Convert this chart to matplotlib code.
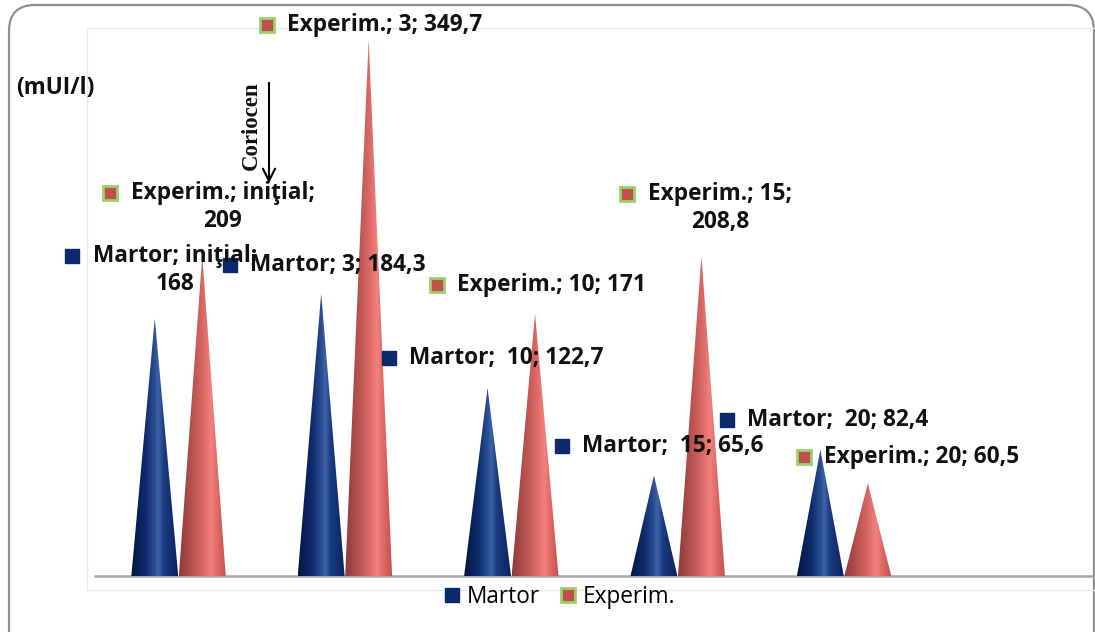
import numpy as np
import matplotlib
matplotlib.use('Agg')
import matplotlib.pyplot as plt
from matplotlib.patches import Polygon, Rectangle, FancyBboxPatch
from matplotlib.colors import LinearSegmentedColormap
from matplotlib.lines import Line2D

# date
categories = ['iniţial', '3', '10', '15', '20']
martor = [168, 184.3, 122.7, 65.6, 82.4]
experim = [209, 349.7, 171, 208.8, 60.5]
series_names = ['Martor', 'Experim.']

W, H = 1095, 632
fig = plt.figure(figsize=(W / 100, H / 100), dpi=100)
fig.patch.set_facecolor('white')

FONT = 'Open Sans'
FS = 16.3

# fundal / chenare (coordonate in pixeli)
bg = fig.add_axes([0, 0, 1, 1], zorder=0)
bg.set_xlim(0, W)
bg.set_ylim(H, 0)
bg.axis('off')
bg.add_patch(FancyBboxPatch((9, 5), 1085, 660, boxstyle='round,pad=0,rounding_size=26',
                            fc='white', ec='#8f8f8f', lw=1.6))
bg.add_patch(Rectangle((87, 28), 1040, 562, fc='none', ec='#ebebe4', lw=1.0))
bg.plot([94, 1095], [576, 576], color='#a6a6a6', lw=1.8, solid_capstyle='butt')

# axa cu conurile
ax = fig.add_axes([94 / W, 1 - 576 / H, 1001 / W, (576 - 28) / H], zorder=1)
ax.patch.set_alpha(0)
ax.axis('off')

blue_cmap = LinearSegmentedColormap.from_list('b', [
    (0.0, '#051640'), (0.3, '#0d2a6a'), (0.5, '#2a4d92'), (0.58, '#3f63a8'),
    (0.7, '#1a3b80'), (1.0, '#0a235e')])
red_cmap = LinearSegmentedColormap.from_list('r', [
    (0.0, '#8e3a3a'), (0.3, '#b85450'), (0.55, '#e06c68'), (0.68, '#f2827e'),
    (0.85, '#da6460'), (1.0, '#c4524e')])

hw = 0.141
off = 0.1427
grad = np.linspace(0, 1, 256).reshape(1, -1)


def cone(xc, h, cmap):
    im = ax.imshow(grad, cmap=cmap, extent=(xc - hw, xc + hw, 0, h),
                   aspect='auto', interpolation='bilinear', zorder=2)
    tri = Polygon([(xc - hw, 0), (xc + hw, 0), (xc, h)], closed=True,
                  fc='none', ec='none', transform=ax.transData)
    ax.add_patch(tri)
    im.set_clip_path(tri)


x = np.arange(len(categories))
for i in range(len(categories)):
    cone(x[i] - off, martor[i], blue_cmap)
    cone(x[i] + off, experim[i], red_cmap)

ax.set_xlim(-0.508, 5.508)
ax.set_ylim(0, 548 / 1.533)

# etichete de date (pozitii in pixeli: marker x, y; rupere pe doua randuri)
m_pos = [(72, 256, True), (230, 265, False), (389, 358, False), (562, 446, False), (727, 420, False)]
e_pos = [(110, 193, True), (267, 25, False), (437, 285, False), (627, 194, True), (804, 457, False)]
# separatorul dupa numele seriei (Excel lasa un spatiu dublu la unele etichete)
m_sep = ['; ', '; ', ';  ', ';  ', ';  ']
e_sep = ['; ', '; ', '; ', '; ', '; ']

top = fig.add_axes([0, 0, 1, 1], zorder=3)
top.set_xlim(0, W)
top.set_ylim(H, 0)
top.axis('off')


def fmt(v):
    return ('%g' % v).replace('.', ',')


def label(pos, name, sep, cat, val, kind):
    px, py, wrap = pos
    if kind == 'm':
        top.plot(px, py, marker='s', ms=10, mfc='#0c2a6b', mec='#0c2a6b', ls='none')
    else:
        top.plot(px, py, marker='s', ms=10, mfc='#c0504d', mec='#9bd06a', mew=2, ls='none')
    if wrap:
        t = top.text(px + 21, py, f'{name}{sep}{cat};', fontsize=FS, fontweight='bold',
                     family=FONT, ha='left', va='center', color='#111111')
        top.annotate(fmt(val), xy=(0.5, 0), xycoords=t, xytext=(0, -4),
                     textcoords='offset pixels', ha='center', va='top',
                     fontsize=FS, fontweight='bold', family=FONT, color='#111111')
    else:
        top.text(px + 20, py, f'{name}{sep}{cat}; {fmt(val)}', fontsize=FS, fontweight='bold',
                 family=FONT, ha='left', va='center', color='#111111')


for i, c in enumerate(categories):
    label(m_pos[i], series_names[0], m_sep[i], c, martor[i], 'm')
    label(e_pos[i], series_names[1], e_sep[i], c, experim[i], 'e')

top.text(16, 88, '(mUI/l)', fontsize=FS, fontweight='bold', family=FONT,
         ha='left', va='center', color='#111111')

# sageata Coriocen
top.text(251, 126, 'Coriocen', rotation=90, fontsize=16.5, fontweight='bold',
         family='Liberation Serif', ha='center', va='center', color='#111111')
top.annotate('', xy=(269, 186), xytext=(269, 80),
             arrowprops=dict(arrowstyle='->', color='black', lw=1.5, mutation_scale=22))

# legenda
handles = [
    Line2D([], [], marker='s', ms=10, mfc='#0c2a6b', mec='#0c2a6b', ls='none'),
    Line2D([], [], marker='s', ms=10, mfc='#c0504d', mec='#9bd06a', mew=2, ls='none'),
]
fig.legend(handles, series_names, loc='center', bbox_to_anchor=(560 / W, 1 - 597 / H),
           ncol=2, frameon=False, handlelength=0.7, handletextpad=0.3, columnspacing=0.9,
           prop={'family': FONT, 'size': FS})

fig.savefig('out.png', dpi=100)
